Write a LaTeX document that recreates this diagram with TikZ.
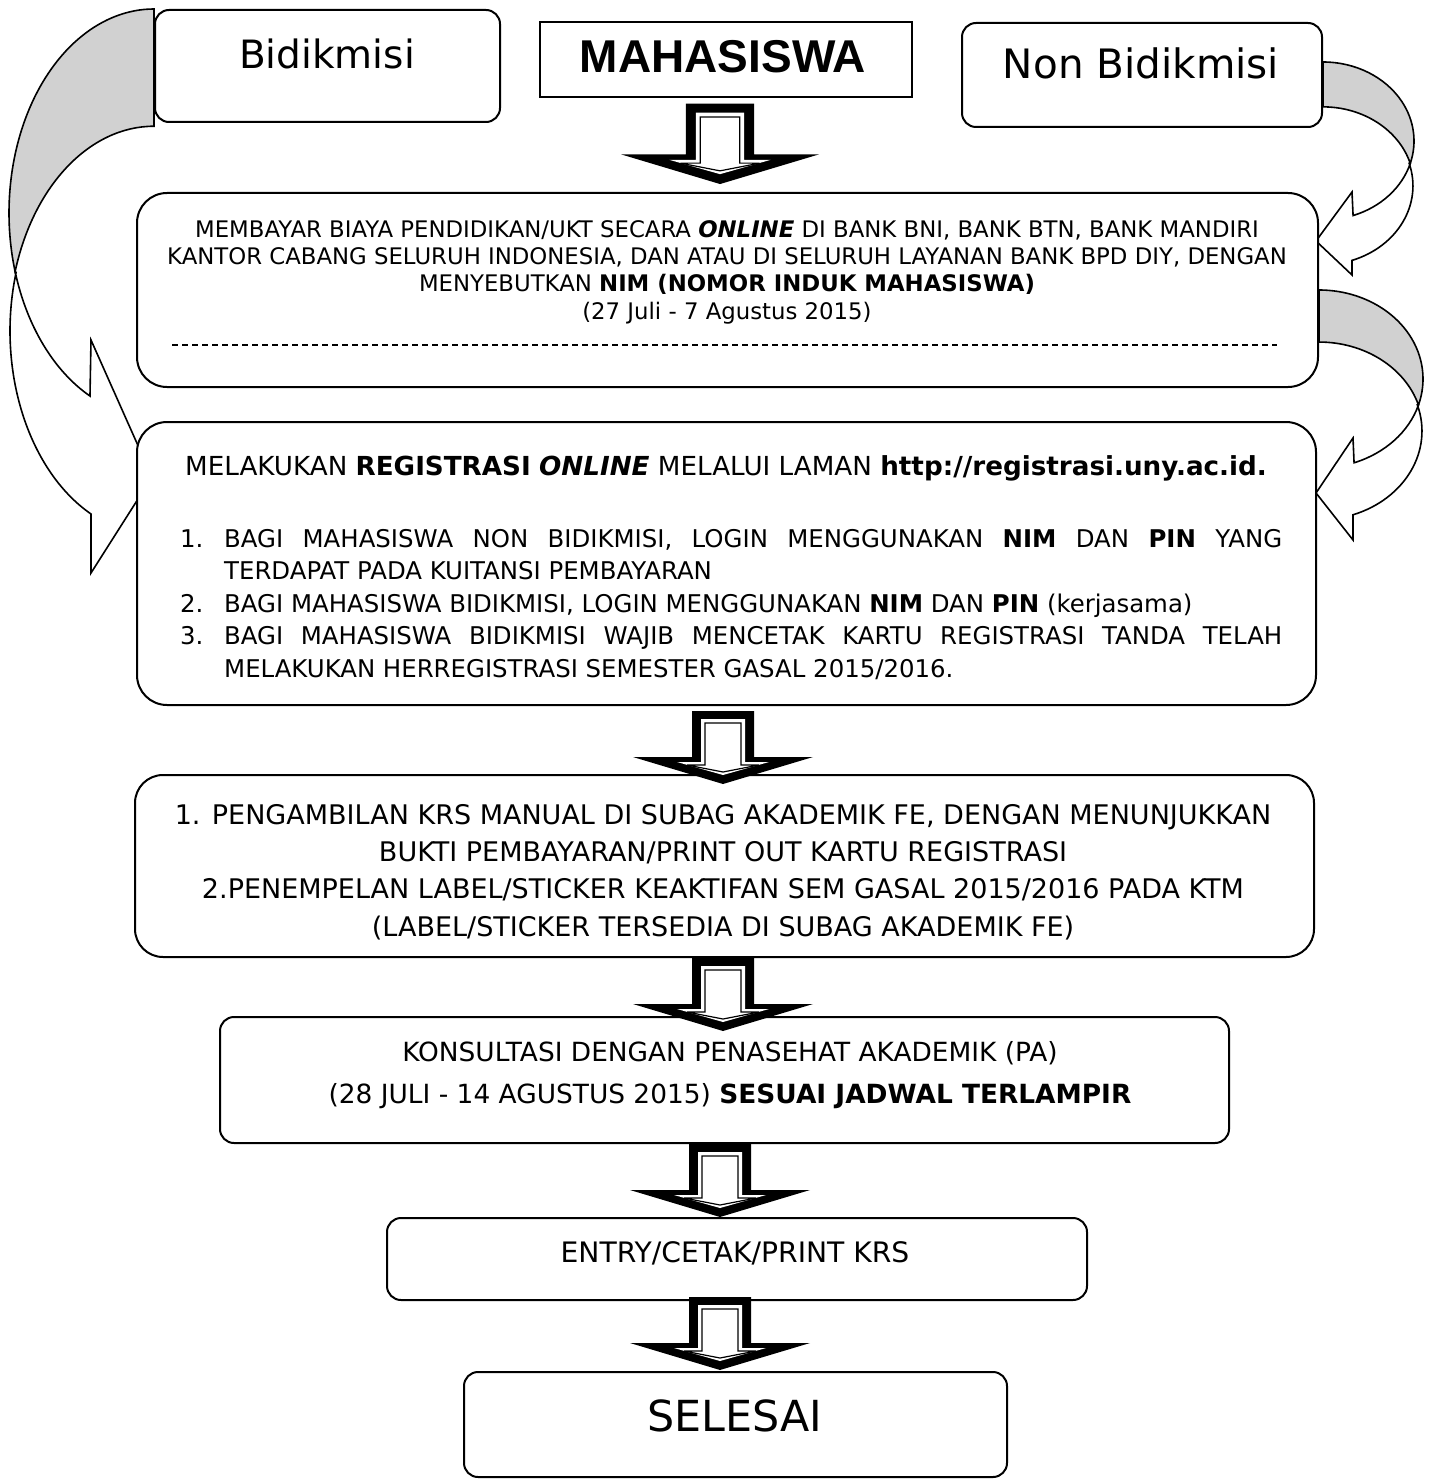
\documentclass[tikz,border=0pt]{standalone}
\usepackage{fontspec}
\setmainfont{DejaVu Sans}
\newfontfamily\arialfont{Liberation Sans}
\pgfdeclarelayer{background}
\pgfsetlayers{background,main}
\tikzset{
    stepbox/.style={draw, line width=2pt, fill=white, rounded corners=14pt, inner sep=0pt},
    boxtext/.style={align=center, inner sep=0pt},
    bandback/.style={draw, line width=1.6pt, fill=black!18},
    bandfront/.style={draw, line width=1.6pt, fill=white},
    fatarrow/.pic={
        \fill[black] (-31,0) -- (31,0) -- (31,46) -- (90,46) -- (0,73) -- (-90,46) -- (-31,46) -- cycle;
        \fill[white] (-22,8) -- (22,8) -- (22,51) -- (46,51) -- (0,64) -- (-46,51) -- (-22,51) -- cycle;
        \draw[line width=1.2pt] (-18,12) -- (18,12) -- (18,54) -- (36,54) -- (0,61) -- (-36,54) -- (-18,54) -- cycle;
    },
}

\begin{document}
\begin{tikzpicture}[x=1pt,y=-1pt]
\useasboundingbox (0,0) rectangle (1430,1479);
\node[stepbox, minimum width=345pt, minimum height=112pt] (bidik) at (327.5,66) {};
\node[stepbox, rounded corners=0pt, line width=2.5pt, minimum width=372pt, minimum height=75pt] (mhs) at (726,59.5) {};
\node[stepbox, minimum width=360pt, minimum height=104pt] (nonbid) at (1142,75) {};
\node[stepbox, rounded corners=30pt, minimum width=1181pt, minimum height=194pt] (pay) at (727.5,290) {};
\node[stepbox, rounded corners=30pt, minimum width=1179pt, minimum height=283pt] (reg) at (726.5,563.5) {};
\node[stepbox, rounded corners=28pt, minimum width=1179pt, minimum height=182pt] (krs) at (724.5,866) {};
\node[stepbox, minimum width=1009pt, minimum height=126pt] (pa) at (724.5,1080) {};
\node[stepbox, minimum width=700pt, minimum height=82pt] (entry) at (737,1259) {};
\node[stepbox, minimum width=543pt, minimum height=105pt] (done) at (735.5,1424.5) {};

\node[boxtext, font=\fontsize{39}{46}\selectfont] (bidiktxt) at (327,54) {Bidikmisi};
\node[boxtext, font=\arialfont\bfseries\fontsize{46}{54}\selectfont] (mhstxt) at (723,57) {MAHASISWA};
\node[boxtext, font=\fontsize{40.5}{46}\selectfont] (nonbidtxt) at (1141,63) {Non Bidikmisi};
\node[boxtext, font=\fontsize{22.8}{27.3}\selectfont] (paytxt) at (727,272) {MEMBAYAR BIAYA PENDIDIKAN/UKT SECARA \textbf{\textit{ONLINE}} DI BANK BNI, BANK BTN, BANK MANDIRI\\
KANTOR CABANG SELURUH INDONESIA, DAN ATAU DI SELURUH LAYANAN BANK BPD DIY, DENGAN\\
MENYEBUTKAN \textbf{NIM (NOMOR INDUK MAHASISWA)}\\
(27 Juli - 7 Agustus 2015)};
\draw[line width=1.5pt, dash pattern=on 6pt off 4pt] (172,345) -- (1277,345);
\node[boxtext, font=\fontsize{26.2}{30}\selectfont] (regtxt) at (726,468) {MELAKUKAN \textbf{REGISTRASI} \textbf{\textit{ONLINE}} MELALUI LAMAN \textbf{http://registrasi.uny.ac.id.}};
\node[inner sep=0pt, anchor=north west, text width=1102pt, align=justify, font=\fontsize{24.4}{32.5}\selectfont] (reglist) at (180,529) {%
\hyphenpenalty=10000\hangindent=44pt\hangafter=1\noindent\makebox[44pt][l]{1.}BAGI MAHASISWA NON BIDIKMISI, LOGIN MENGGUNAKAN \textbf{NIM} DAN \textbf{PIN} YANG\linebreak TERDAPAT PADA KUITANSI PEMBAYARAN\par
\hangindent=44pt\hangafter=1\noindent\makebox[44pt][l]{2.}BAGI MAHASISWA BIDIKMISI, LOGIN MENGGUNAKAN \textbf{NIM} DAN \textbf{PIN} (kerjasama)\par
\hangindent=44pt\hangafter=1\noindent\makebox[44pt][l]{3.}BAGI MAHASISWA BIDIKMISI WAJIB MENCETAK KARTU REGISTRASI TANDA TELAH\linebreak MELAKUKAN HERREGISTRASI SEMESTER GASAL 2015/2016.\par};
\node[boxtext, font=\fontsize{27}{37.3}\selectfont] (krstxt) at (723,872) {1. PENGAMBILAN KRS MANUAL DI SUBAG AKADEMIK FE, DENGAN MENUNJUKKAN\\
BUKTI PEMBAYARAN/PRINT OUT KARTU REGISTRASI\\
2.PENEMPELAN LABEL/STICKER KEAKTIFAN SEM GASAL 2015/2016 PADA KTM\\
(LABEL/STICKER TERSEDIA DI SUBAG AKADEMIK FE)};
\node[boxtext, font=\fontsize{26.4}{42}\selectfont] (patxt) at (730,1075) {KONSULTASI DENGAN PENASEHAT AKADEMIK (PA)\\
(28 JULI - 14 AGUSTUS 2015) \textbf{SESUAI JADWAL TERLAMPIR}};
\node[boxtext, font=\fontsize{28.2}{34}\selectfont] (entrytxt) at (735,1253) {ENTRY/CETAK/PRINT KRS};
\node[boxtext, font=\fontsize{42.8}{50}\selectfont] (donetxt) at (735,1416) {SELESAI};

\begin{pgfonlayer}{background}
\draw[bandback] (bidik.north west) arc[start angle=-90, end angle=-196.7, x radius=145, y radius=204] coordinate (lcross) arc[start angle=-163.3, end angle=-90, x radius=145, y radius=204] -- cycle;
\draw[bandfront] (lcross) arc[start angle=-196.7, end angle=-243.8, x radius=145, y radius=204] -- (91,340) -- (152,477) -- (91,573) -- (91,514) arc[start angle=-243.8, end angle=-163.3, x radius=145, y radius=204] -- cycle;
\draw[bandback] ([yshift=13pt]nonbid.east) arc[start angle=-90, end angle=16.5, x radius=91, y radius=79] coordinate (racross) arc[start angle=-16.5, end angle=-90, x radius=91, y radius=79] -- cycle;
\draw[bandfront] (racross) arc[start angle=16.5, end angle=70.7, x radius=91, y radius=79] -- (1352,192) -- (1316,241) -- (1352,275) -- (1352,260.4) arc[start angle=70.7, end angle=-16.5, x radius=91, y radius=79] -- cycle;
\draw[bandback] (pay.east) arc[start angle=-90, end angle=17, x radius=104, y radius=89] coordinate (rbcross) arc[start angle=-17, end angle=-90, x radius=104, y radius=89] -- cycle;
\draw[bandfront] (rbcross) arc[start angle=17, end angle=70.3, x radius=104, y radius=89] -- (1353,438) -- (1316,493) -- (1353,540) -- (1353,514.8) arc[start angle=70.3, end angle=-17, x radius=104, y radius=89] -- cycle;
\end{pgfonlayer}

\coordinate (ax) at (720,0);
\coordinate (bx) at (723,0);
\pic[scale=1.1, yshift=-5pt] at (ax |- mhs.south) {fatarrow};
\pic[yshift=-5pt] at (bx |- reg.south) {fatarrow};
\pic at (bx |- krs.south) {fatarrow};
\pic at (ax |- pa.south) {fatarrow};
\pic[yshift=4pt] at (ax |- entry.south) {fatarrow};
\end{tikzpicture}
\end{document}
